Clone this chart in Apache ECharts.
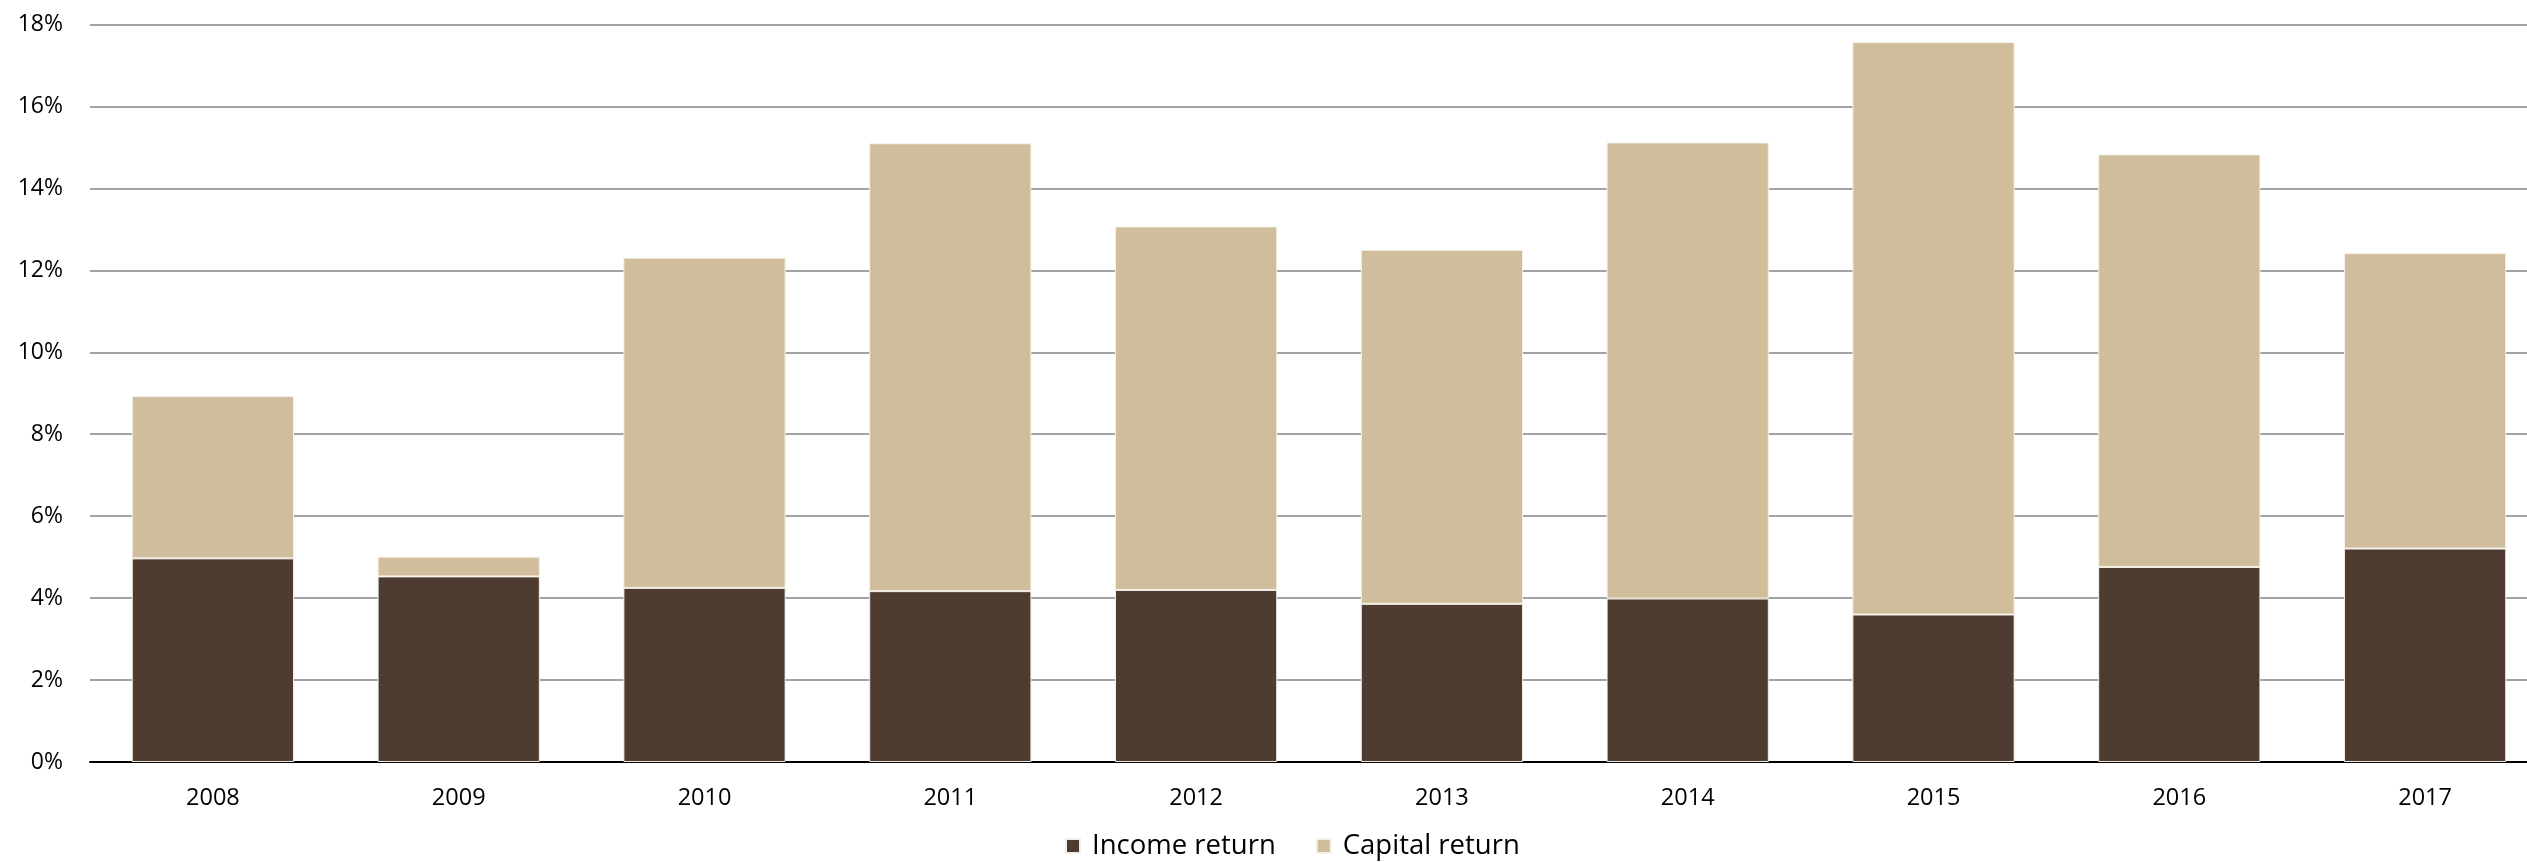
<!DOCTYPE html>
<html>
<head>
<meta charset="utf-8">
<script src="https://cdn.jsdelivr.net/npm/echarts@6/dist/echarts.min.js"></script>
<style>
html,body{margin:0;padding:0;background:#fff;}
#chart{width:2527px;height:862px;}
</style>
</head>
<body>
<div id="chart"></div>
<script>
const years = ['2008','2009','2010','2011','2012','2013','2014','2015','2016','2017'];
const incomeReturn = [4.97, 4.53, 4.25, 4.17, 4.20, 3.86, 3.99, 3.60, 4.76, 5.21];
const capitalReturn = [3.96, 0.48, 8.06, 10.93, 8.87, 8.64, 11.13, 13.97, 10.07, 7.21];
const yTicks = {min: 0, max: 18, interval: 2};

const chart = echarts.init(document.getElementById('chart'), null, {renderer: 'canvas'});
const fontFamily = '"Open Sans", "Liberation Sans", sans-serif';
chart.setOption({
  animation: false,
  backgroundColor: '#ffffff',
  grid: {left: 90, top: 24.5, width: 2458, bottom: 100, containLabel: false, outerBoundsMode: 'none'},
  legend: {
    top: 832,
    left: 1065,
    padding: 0,
    itemWidth: 14,
    itemHeight: 14,
    itemGap: 40,
    icon: 'rect',
    textStyle: {fontFamily, fontSize: 27.5, color: '#000', padding: [0,0,0,7]},
    data: ['Income return', 'Capital return']
  },
  xAxis: {
    type: 'category',
    data: years,
    axisLine: {show: true, lineStyle: {color: '#000', width: 2}},
    axisTick: {show: false},
    axisLabel: {fontFamily, fontSize: 23.5, color: '#000', margin: 24}
  },
  yAxis: {
    type: 'value',
    min: yTicks.min,
    max: yTicks.max,
    interval: yTicks.interval,
    axisLine: {show: false},
    axisTick: {show: false},
    splitLine: {lineStyle: {color: '#858585', width: 1.5}},
    axisLabel: {fontFamily, fontSize: 23, color: '#000', margin: 27, formatter: '{value}%'}
  },
  series: [
    {
      name: 'Income return',
      type: 'bar',
      stack: 'total',
      barCategoryGap: '34%',
      data: incomeReturn,
      itemStyle: {color: '#4e3c31', borderColor: '#f2eee6', borderWidth: 1}
    },
    {
      name: 'Capital return',
      type: 'bar',
      stack: 'total',
      barCategoryGap: '34%',
      data: capitalReturn,
      itemStyle: {color: '#d0bd9b', borderColor: '#f6f1e6', borderWidth: 1}
    }
  ]
});
</script>
</body>
</html>
